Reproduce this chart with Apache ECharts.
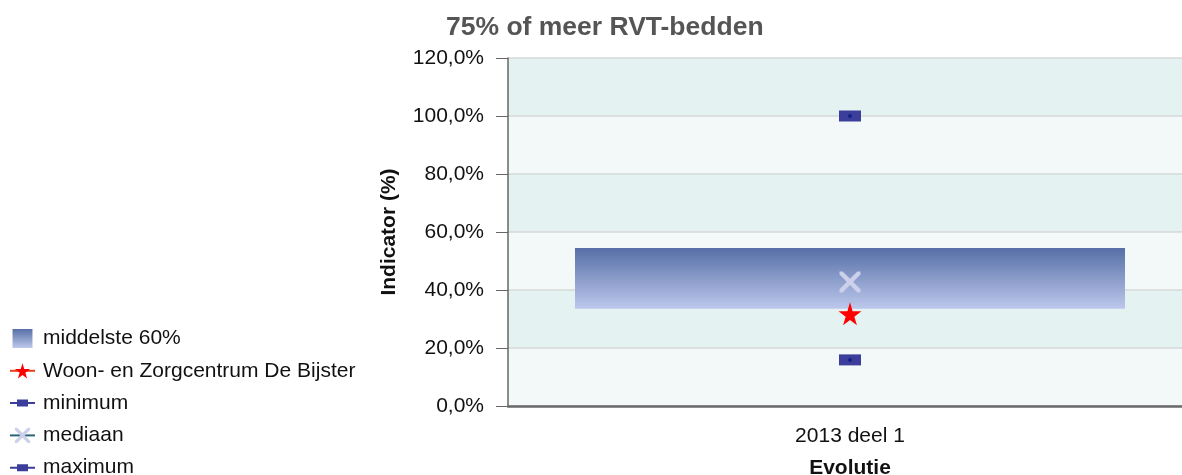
<!DOCTYPE html>
<html>
<head>
    <meta charset="utf-8">
    <title>75% of meer RVT-bedden</title>
    <script src="https://cdn.jsdelivr.net/npm/echarts@6/dist/echarts.min.js"></script>
    <style>
        html, body { margin: 0; padding: 0; background: #fff; }
        #chart { width: 1182px; height: 475px; }
    </style>
</head>
<body>
    <div id="chart"></div>
    <script>
        // categories and values
        var categories = ['2013 deel 1'];
        var bandLow = [33.5];     // onderkant middelste 60%
        var bandHigh = [54.5];    // bovenkant middelste 60%
        var ownValue = [31.8];    // Woon- en Zorgcentrum De Bijster
        var minValues = [15.9];
        var medianValues = [42.8];
        var maxValues = [100.0];
        var yTicks = { min: 0, max: 120, step: 20 };

        var bandSize = bandHigh.map(function (v, i) { return v - bandLow[i]; });

        var font = 'Liberation Sans, Arial, sans-serif';
        var starPath = 'path://M50,0L61,35H98L68,57L79,91L50,70L21,91L32,57L2,35H39Z';
        var crossPath = 'path://M0,0H3L10,7L17,0H20V3L13,10L20,17V20H17L10,13L3,20H0V17L7,10L0,3Z';
        var boxPath = 'path://M0,0H22V11H0Z';
        // legend icons
        var boxLegendIcon = 'path://M0,7H7V4.5H18V7H25V9H18V11.5H7V9H0Z';
        var squareLegendIcon = 'path://M0,0H21V20H0Z';
        var bandColor = new echarts.graphic.LinearGradient(0, 0, 0, 1, [
            { offset: 0, color: '#566fa6' },
            { offset: 1, color: '#bdc8ec' }
        ]);

        var chart = echarts.init(document.getElementById('chart'));
        chart.setOption({
            animation: false,
            title: {
                text: '75% of meer RVT-bedden',
                left: 441,
                top: 9,
                textStyle: { fontFamily: font, fontSize: 26.5, fontWeight: 'bold', color: '#555' }
            },
            legend: {
                orient: 'vertical',
                left: 9,
                top: 328,
                height: 170,
                padding: 0,
                itemWidth: 25,
                itemHeight: 19,
                itemGap: 11.3,
                symbolKeepAspect: true,
                textStyle: { fontFamily: font, fontSize: 21, color: '#111', padding: [0, 0, 0, 3] },
                data: [
                    { name: 'middelste 60%', icon: squareLegendIcon },
                    'Woon- en Zorgcentrum De Bijster',
                    { name: 'minimum', icon: boxLegendIcon },
                    'mediaan',
                    { name: 'maximum', icon: boxLegendIcon }
                ]
            },
            grid: { left: 508, top: 58, width: 684, height: 348, outerBoundsMode: 'none' },
            xAxis: {
                type: 'category',
                data: categories,
                name: 'Evolutie',
                nameLocation: 'middle',
                nameGap: 52,
                nameTextStyle: { fontFamily: font, fontSize: 21, fontWeight: 'bold', color: '#111' },
                axisLine: { lineStyle: { color: '#6a6a6a', width: 2.5 } },
                axisTick: { alignWithLabel: true, length: 8, lineStyle: { color: '#6a6a6a' } },
                axisLabel: { fontFamily: font, fontSize: 21, color: '#111', margin: 20 }
            },
            yAxis: {
                type: 'value',
                min: yTicks.min,
                max: yTicks.max,
                interval: yTicks.step,
                name: 'Indicator (%)',
                nameLocation: 'middle',
                nameGap: 108,
                nameTextStyle: { fontFamily: font, fontSize: 21, fontWeight: 'bold', color: '#111' },
                axisLine: { show: true, lineStyle: { color: '#666', width: 1.5 } },
                axisTick: { show: true, length: 12, lineStyle: { color: '#666' } },
                axisLabel: {
                    fontFamily: font, fontSize: 21, color: '#111', margin: 24,
                    formatter: function (v) { return v.toFixed(1).replace('.', ',') + '%'; }
                },
                splitLine: { lineStyle: { color: '#d6d9d9', width: 1.5 } },
                splitArea: { show: true, areaStyle: { color: ['#f2f9f8', '#e4f3f1'] } }
            },
            series: [
                {
                    name: 'base',
                    type: 'bar',
                    stack: 'band',
                    data: bandLow,
                    barWidth: 550,
                    itemStyle: { color: 'transparent' },
                    silent: true
                },
                {
                    name: 'middelste 60%',
                    type: 'bar',
                    stack: 'band',
                    data: bandSize,
                    barWidth: 550,
                    itemStyle: { color: bandColor }
                },
                {
                    name: 'Woon- en Zorgcentrum De Bijster',
                    type: 'line',
                    data: ownValue,
                    symbol: starPath,
                    symbolSize: 23,
                    itemStyle: { color: '#ff0000' },
                    lineStyle: { color: '#e8401c', width: 3 },
                    z: 5
                },
                {
                    name: 'minimum',
                    type: 'line',
                    data: minValues,
                    symbol: boxPath,
                    symbolSize: [22, 11],
                    itemStyle: { color: '#3b3f9b' },
                    lineStyle: { color: '#2a4a9a', width: 3 },
                    z: 4
                },
                {
                    name: 'mediaan',
                    type: 'line',
                    data: medianValues,
                    symbol: crossPath,
                    symbolSize: 21,
                    itemStyle: { color: '#ccd0ea' },
                    lineStyle: { color: '#2a6478', width: 3 },
                    z: 4
                },
                {
                    name: 'maximum',
                    type: 'line',
                    data: maxValues,
                    symbol: boxPath,
                    symbolSize: [22, 11],
                    itemStyle: { color: '#3b3f9b' },
                    lineStyle: { color: '#2a4a9a', width: 3 },
                    z: 4
                },
                {
                    name: 'dots',
                    type: 'scatter',
                    data: minValues.concat(maxValues).map(function (v) { return [categories[0], v]; }),
                    symbol: 'circle',
                    symbolSize: 4,
                    itemStyle: { color: '#0a1a80' },
                    silent: true,
                    z: 6
                }
            ]
        });
    </script>
</body>
</html>
